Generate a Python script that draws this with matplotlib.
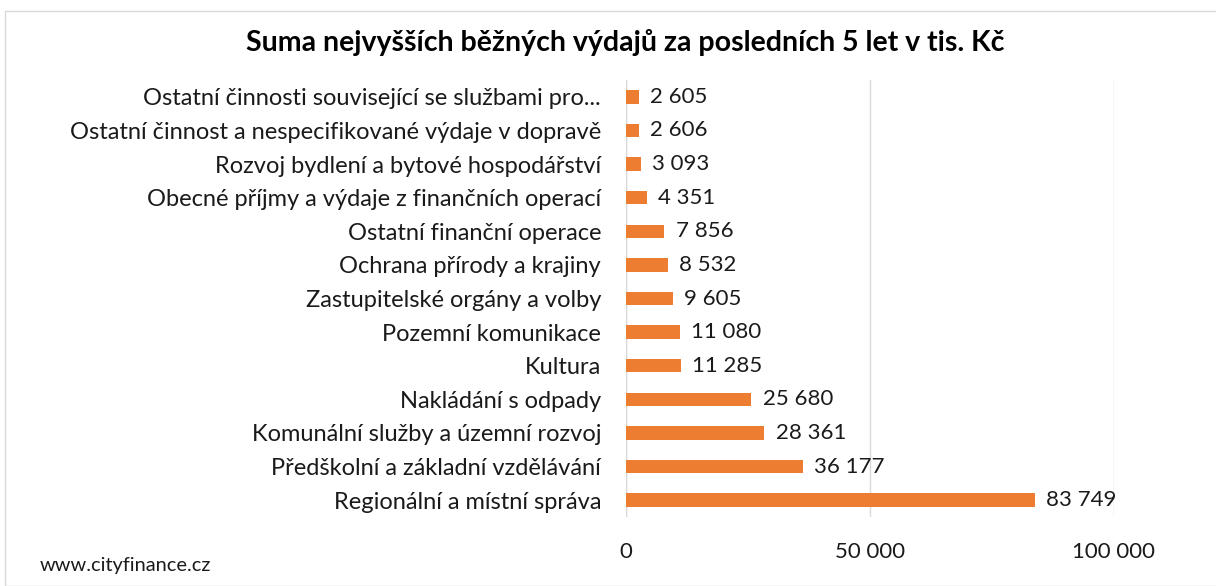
import numpy as np
import matplotlib.pyplot as plt
from matplotlib.patches import Rectangle

plt.rcParams['font.family'] = ['Lato', 'DejaVu Sans']

categories = ["Ostatní činnosti související se službami pro...",
              "Ostatní činnost a nespecifikované výdaje v dopravě",
              "Rozvoj bydlení a bytové hospodářství",
              "Obecné příjmy a výdaje z finančních operací",
              "Ostatní finanční operace",
              "Ochrana přírody a krajiny",
              "Zastupitelské orgány a volby",
              "Pozemní komunikace",
              "Kultura",
              "Nakládání s odpady",
              "Komunální služby a územní rozvoj",
              "Předškolní a základní vzdělávání",
              "Regionální a místní správa"]
values = [2605, 2606, 3093, 4351, 7856, 8532, 9605, 11080, 11285, 25680, 28361, 36177, 83749]
xticks = [0, 50000, 100000]

def fmt(v):
    return f"{v:,}".replace(",", " ")

fig = plt.figure(figsize=(12.16, 5.86), dpi=100)
ax = fig.add_axes([626/1216, 1-517/586, (1114-626)/1216, (517-80)/586])

y = np.arange(len(categories))
ax.barh(y, values, height=0.4, color='#ED7D31', zorder=3)
for yi, v in zip(y, values):
    ax.text(v + 2300, yi, fmt(v), va='center', ha='left', fontsize=16, color='#1a1a1a')

ax.set_ylim(len(categories) - 0.5, -0.5)
ax.set_xlim(0, 100000)
ax.set_yticks(y)
ax.set_yticklabels(categories, fontsize=17, color='#1a1a1a')
ax.set_xticks(xticks)
ax.set_xticklabels([fmt(t) for t in xticks], fontsize=16, color='#1a1a1a')
ax.tick_params(axis='both', length=0)
ax.tick_params(axis='y', pad=18)
ax.tick_params(axis='x', pad=18)
ax.grid(axis='x', color='#d9d9d9', linewidth=1, zorder=0)
for s in ax.spines.values():
    s.set_visible(False)
ax.axvline(0, color='#d9d9d9', linewidth=1, zorder=1)

fig.text(625/1216, 1-42/586, "Suma nejvyšších běžných výdajů za posledních 5 let v tis. Kč",
         ha='center', va='center', fontsize=20.5, fontweight='bold', color='#000000')
fig.text(40/1216, 1-566/586, "www.cityfinance.cz", ha='left', va='center', fontsize=14.4, color='#1a1a1a')

fig.patches.append(Rectangle((5/1216, 0), 1.2, 1-11/586, transform=fig.transFigure,
                             fill=False, edgecolor='#d9d9d9', linewidth=1))

fig.savefig('out.png', dpi=100)
